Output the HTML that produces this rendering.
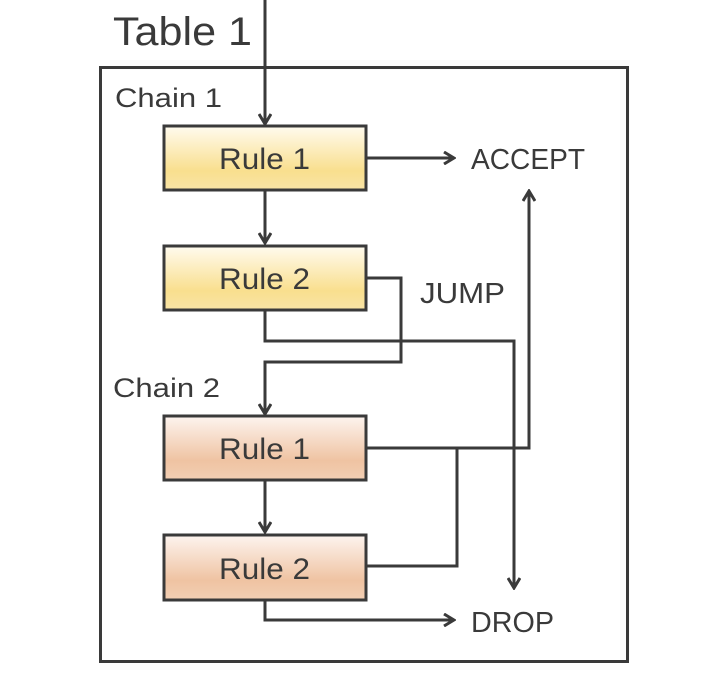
<!DOCTYPE html>
<html><head><style>
html,body{margin:0;padding:0;background:#fff;width:712px;height:676px;overflow:hidden}
text{font-family:"Liberation Sans",sans-serif;fill:#3a3a3a}
</style></head><body>
<svg width="712" height="676" viewBox="0 0 712 676" xmlns="http://www.w3.org/2000/svg">
<defs>
<linearGradient id="y" x1="0" y1="0" x2="0" y2="1"><stop offset="0" stop-color="#fffbef"/><stop offset="0.7" stop-color="#f9df8e"/><stop offset="1" stop-color="#f9e4a6"/></linearGradient>
<linearGradient id="o" x1="0" y1="0" x2="0" y2="1"><stop offset="0" stop-color="#fdf4ef"/><stop offset="0.7" stop-color="#efc3a2"/><stop offset="1" stop-color="#f2cfb4"/></linearGradient>
<marker id="a" markerWidth="14" markerHeight="14" refX="12" refY="7" orient="auto" markerUnits="userSpaceOnUse"><path d="M2,1 L12,7 L2,13" fill="none" stroke="#3a3a3a" stroke-width="3"/></marker>
</defs>
<text x="113" y="45" font-size="40" textLength="139" lengthAdjust="spacingAndGlyphs">Table 1</text>
<rect x="100.5" y="67.5" width="527" height="594" fill="none" stroke="#3a3a3a" stroke-width="3"/>
<text x="115" y="107" font-size="27" textLength="107" lengthAdjust="spacingAndGlyphs">Chain 1</text>
<text x="113" y="397" font-size="27" textLength="107" lengthAdjust="spacingAndGlyphs">Chain 2</text>
<g fill="none" stroke="#3a3a3a" stroke-width="3">
<path d="M265,0 V124" marker-end="url(#a)"/>
<path d="M366,158 H454" marker-end="url(#a)"/>
<path d="M265,190 V243" marker-end="url(#a)"/>
<path d="M366,278 H401 V362 H265 V414" marker-end="url(#a)"/>
<path d="M265,310 V341 H514 V588" marker-end="url(#a)"/>
<path d="M366,448 H529 V191" marker-end="url(#a)"/>
<path d="M366,566 H457 V448"/>
<path d="M265,480 V532" marker-end="url(#a)"/>
<path d="M265,600 V620 H454" marker-end="url(#a)"/>
</g>
<g stroke="#3a3a3a" stroke-width="3">
<rect x="164" y="126" width="202" height="64" fill="url(#y)"/>
<rect x="164" y="246" width="202" height="64" fill="url(#y)"/>
<rect x="164" y="416" width="202" height="64" fill="url(#o)"/>
<rect x="164" y="535" width="202" height="65" fill="url(#o)"/>
</g>
<g font-size="30">
<text x="219" y="169" textLength="91" lengthAdjust="spacingAndGlyphs">Rule 1</text>
<text x="219" y="289" textLength="91" lengthAdjust="spacingAndGlyphs">Rule 2</text>
<text x="219" y="459" textLength="91" lengthAdjust="spacingAndGlyphs">Rule 1</text>
<text x="219" y="579" textLength="91" lengthAdjust="spacingAndGlyphs">Rule 2</text>
</g>
<text x="471" y="169" font-size="29" textLength="114" lengthAdjust="spacingAndGlyphs">ACCEPT</text>
<text x="420" y="303" font-size="29" textLength="85" lengthAdjust="spacingAndGlyphs">JUMP</text>
<text x="471" y="632" font-size="29" textLength="83" lengthAdjust="spacingAndGlyphs">DROP</text>
</svg>
</body></html>
